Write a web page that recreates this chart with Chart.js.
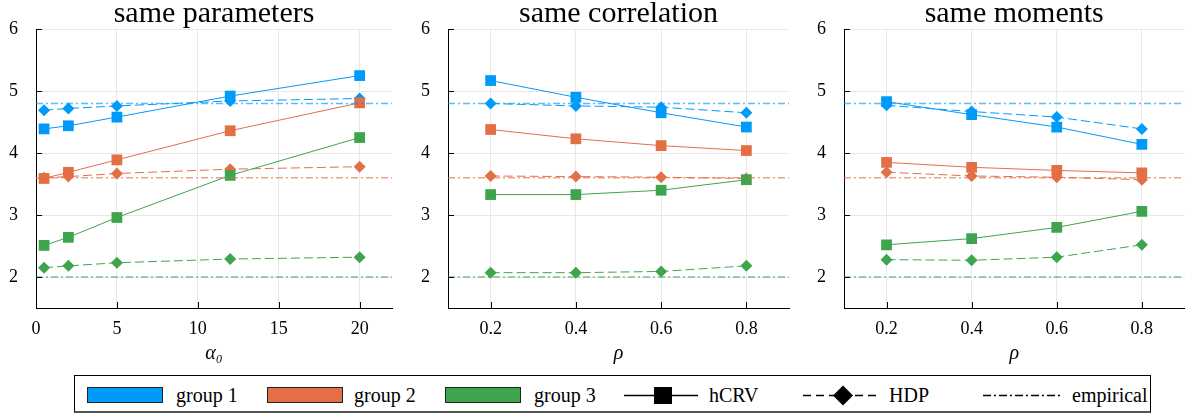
<!DOCTYPE html>
<html>
<head>
<meta charset="utf-8">
<script src="https://cdn.jsdelivr.net/npm/chart.js@4"></script>
<style>
  html, body { margin: 0; padding: 0; background: #fff; }
  body { width: 1192px; height: 419px; position: relative; overflow: hidden;
         font-family: 'Liberation Serif', serif; }
  .panel { position: absolute; top: 0; height: 370px; }
  .legend-box { position: absolute; left: 74px; top: 375px; width: 1077px; height: 38px;
                border: 1px solid #000; border-bottom: 2px solid #555; box-sizing: border-box; }
  .lg-text { position: absolute; top: 385px; font-size: 20px; line-height: 20px; color: #000; white-space: nowrap; }
  .swatch { position: absolute; top: 387px; width: 76px; height: 16px; box-sizing: border-box; border: 1px solid #222; }
</style>
</head>
<body>

<div class="panel" style="left:0;width:400px"><canvas id="p1" width="400" height="370"></canvas></div>
<div class="panel" style="left:400px;width:400px"><canvas id="p2" width="400" height="370"></canvas></div>
<div class="panel" style="left:795px;width:397px"><canvas id="p3" width="397" height="370"></canvas></div>

<div class="legend-box"></div>
<div class="swatch" style="left:87px;background:#009AFA"></div>
<div class="lg-text" style="left:176px">group 1</div>
<div class="swatch" style="left:267px;background:#E36F47"></div>
<div class="lg-text" style="left:354px">group 2</div>
<div class="swatch" style="left:445px;background:#3EA44E"></div>
<div class="lg-text" style="left:534px">group 3</div>
<div class="lg-text" style="left:709px">hCRV</div>
<div class="lg-text" style="left:889px">HDP</div>
<div class="lg-text" style="left:1072px">empirical</div>
<svg style="position:absolute;left:0;top:0" width="1192" height="419">
  <line x1="624" y1="395.5" x2="698" y2="395.5" stroke="#000" stroke-width="1.5"/>
  <rect x="654" y="387" width="18" height="17" fill="#000"/>
  <line x1="803" y1="395.5" x2="878" y2="395.5" stroke="#000" stroke-width="1.5" stroke-dasharray="8,5"/>
  <polygon points="833,395.5 843,385.5 853,395.5 843,405.5" fill="#000"/>
  <line x1="983" y1="395.5" x2="1062" y2="395.5" stroke="#000" stroke-width="1.5" stroke-dasharray="8,3,2,3"/>
</svg>

<script>
'use strict';

// ── Data ──────────────────────────────────────────────────────
const GROUPS    = ['group 1', 'group 2', 'group 3'];
const COLORS    = ['#009AFA', '#E36F47', '#3EA44E'];
const EMP_COLOR = ['rgba(0,154,250,.65)', 'rgba(227,111,71,.65)', 'rgba(62,164,78,.65)'];

const Y_TICKS     = [2, 3, 4, 5, 6];
const X_TICKS_A   = [0, 5, 10, 15, 20];
const X_TICKS_RHO = [0.2, 0.4, 0.6, 0.8];

const X_ALPHA = [0.5, 2, 5, 12, 20];
const X_RHO   = [0.2, 0.4, 0.6, 0.8];

const EMPIRICAL = [4.8, 3.6, 2.0];

// same parameters
const P1_HCRV_G1 = [4.39, 4.44, 4.58, 4.92, 5.25];
const P1_HCRV_G2 = [3.59, 3.69, 3.89, 4.36, 4.81];
const P1_HCRV_G3 = [2.51, 2.64, 2.96, 3.64, 4.25];
const P1_HDP_G1  = [4.69, 4.72, 4.76, 4.84, 4.88];
const P1_HDP_G2  = [3.60, 3.62, 3.67, 3.74, 3.78];
const P1_HDP_G3  = [2.15, 2.18, 2.23, 2.29, 2.32];

// same correlation
const P2_HCRV_G1 = [5.17, 4.90, 4.65, 4.42];
const P2_HCRV_G2 = [4.38, 4.23, 4.12, 4.04];
const P2_HCRV_G3 = [3.33, 3.33, 3.40, 3.57];
const P2_HDP_G1  = [4.80, 4.76, 4.74, 4.65];
const P2_HDP_G2  = [3.63, 3.62, 3.61, 3.59];
const P2_HDP_G3  = [2.07, 2.07, 2.09, 2.18];

// same moments
const P3_HCRV_G1 = [4.83, 4.62, 4.42, 4.14];
const P3_HCRV_G2 = [3.85, 3.77, 3.72, 3.68];
const P3_HCRV_G3 = [2.52, 2.62, 2.80, 3.06];
const P3_HDP_G1  = [4.77, 4.67, 4.58, 4.39];
const P3_HDP_G2  = [3.69, 3.63, 3.61, 3.57];
const P3_HDP_G3  = [2.28, 2.27, 2.32, 2.52];

// ── Helpers ───────────────────────────────────────────────────
const FONT = "'Liberation Serif', serif";

// short tick marks pointing into the plot area
const innerTicks = {
  id: 'innerTicks',
  afterDraw(chart) {
    const { ctx, chartArea: a, scales: { x, y } } = chart;
    ctx.save();
    ctx.strokeStyle = '#000';
    ctx.lineWidth = 1;
    ctx.beginPath();
    x.ticks.forEach(t => {
      const px = Math.round(x.getPixelForValue(t.value)) + 0.5;
      ctx.moveTo(px, a.bottom);
      ctx.lineTo(px, a.bottom - 6);
    });
    y.ticks.forEach(t => {
      const py = Math.round(y.getPixelForValue(t.value)) + 0.5;
      ctx.moveTo(a.left, py);
      ctx.lineTo(a.left + 6, py);
    });
    ctx.stroke();
    ctx.restore();
  },
};

function buildDatasets(xs, hcrv, hdp, xMin, xMax) {
  const sets = [];
  let n = 0;
  for (let g = 0; g < 3; g++) {
    sets.push({
      label: GROUPS[g] + ' hCRV',
      data: xs.map((x, i) => ({ x, y: hcrv[g][i] })),
      borderColor: COLORS[g],
      backgroundColor: COLORS[g],
      borderWidth: 1,
      pointStyle: 'rect',
      pointRadius: 7.6,
      pointBorderWidth: 0,
      order: -(n++),
    });
    sets.push({
      label: GROUPS[g] + ' HDP',
      data: xs.map((x, i) => ({ x, y: hdp[g][i] })),
      borderColor: COLORS[g],
      backgroundColor: COLORS[g],
      borderWidth: 1,
      borderDash: [9, 4],
      pointStyle: 'rectRot',
      pointRadius: 6,
      pointBorderWidth: 0,
      order: -(n++),
    });
  }
  for (let g = 0; g < 3; g++) {
    sets.push({
      label: GROUPS[g] + ' empirical',
      data: [{ x: xMin, y: EMPIRICAL[g] }, { x: xMax, y: EMPIRICAL[g] }],
      borderColor: EMP_COLOR[g],
      borderWidth: 1.5,
      borderDash: [7, 3, 2, 3],
      pointRadius: 0,
      order: -(n++),
    });
  }
  return sets;
}

function makePanel(id, cfg) {
  const ctx = document.getElementById(id).getContext('2d');
  return new Chart(ctx, {
    type: 'line',
    data: { datasets: buildDatasets(cfg.xs, cfg.hcrv, cfg.hdp, cfg.xMin, cfg.xMax) },
    options: {
      responsive: false,
      animation: false,
      events: [],
      layout: { padding: { left: 0, right: cfg.padRight, top: 0, bottom: 0 } },
      plugins: {
        legend:  { display: false },
        tooltip: { enabled: false },
        title: {
          display: true,
          fullSize: false,
          text: cfg.title,
          color: '#000',
          font: { family: FONT, size: 30, weight: 'normal', lineHeight: 0.97 },
          padding: { top: 0, bottom: 0 },
        },
      },
      scales: {
        x: {
          type: 'linear',
          min: cfg.xMin,
          max: cfg.xMax,
          afterBuildTicks: s => { s.ticks = cfg.xTicks.map(v => ({ value: v })); },
          afterFit: s => { s.height = 62; },
          ticks: {
            color: '#000',
            font: { family: FONT, size: 18 },
            padding: 10,
            maxRotation: 0,
            autoSkip: false,
            callback: v => cfg.xFmt(v),
          },
          grid:   { color: '#e8e8e8', drawTicks: false },
          border: { color: '#000', width: 1 },
          title: {
            display: true,
            text: cfg.xTitle,
            color: '#000',
            font: { family: FONT, size: 20, style: 'italic' },
            padding: { top: 0, bottom: 4 },
          },
        },
        y: {
          min: 1.5,
          max: 6,
          afterBuildTicks: s => { s.ticks = Y_TICKS.map(v => ({ value: v })); },
          afterFit: s => { s.width = cfg.yWidth; },
          ticks: {
            color: '#000',
            font: { family: FONT, size: 18 },
            padding: 18,
          },
          grid:   { color: '#e8e8e8', drawTicks: false },
          border: { color: '#000', width: 1 },
        },
      },
    },
    plugins: [innerTicks],
  });
}

makePanel('p1', {
  title: 'same parameters', xTitle: 'α₀',
  xs: X_ALPHA, xTicks: X_TICKS_A, xMin: 0, xMax: 22, xFmt: v => String(v),
  hcrv: [P1_HCRV_G1, P1_HCRV_G2, P1_HCRV_G3],
  hdp:  [P1_HDP_G1,  P1_HDP_G2,  P1_HDP_G3],
  yWidth: 36, padRight: 8,
});

makePanel('p2', {
  title: 'same correlation', xTitle: 'ρ',
  xs: X_RHO, xTicks: X_TICKS_RHO, xMin: 0.1, xMax: 0.9, xFmt: v => v.toFixed(1),
  hcrv: [P2_HCRV_G1, P2_HCRV_G2, P2_HCRV_G3],
  hdp:  [P2_HDP_G1,  P2_HDP_G2,  P2_HDP_G3],
  yWidth: 48, padRight: 11,
});

makePanel('p3', {
  title: 'same moments', xTitle: 'ρ',
  xs: X_RHO, xTicks: X_TICKS_RHO, xMin: 0.1, xMax: 0.9, xFmt: v => v.toFixed(1),
  hcrv: [P3_HCRV_G1, P3_HCRV_G2, P3_HCRV_G3],
  hdp:  [P3_HDP_G1,  P3_HDP_G2,  P3_HDP_G3],
  yWidth: 49, padRight: 7,
});
</script>
</body>
</html>
